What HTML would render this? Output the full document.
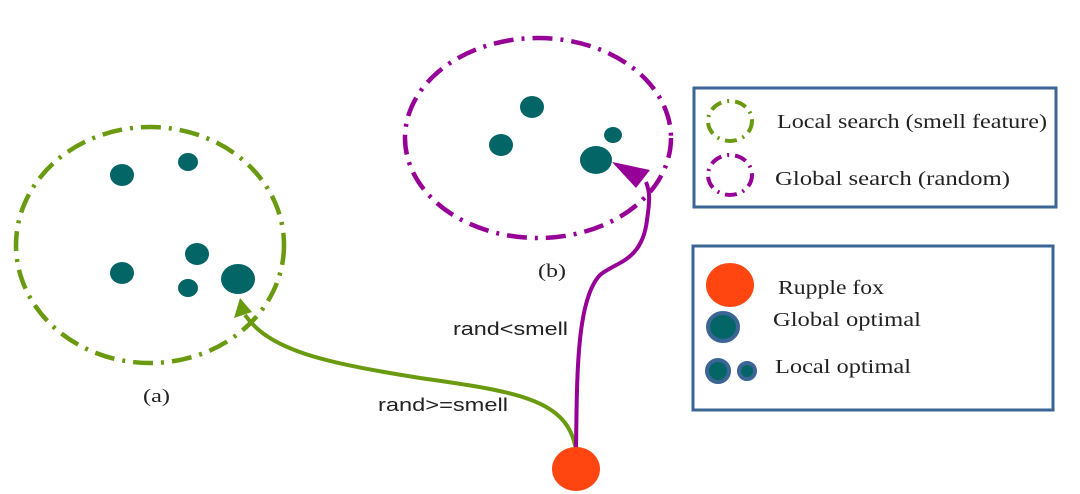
<!DOCTYPE html>
<html><head><meta charset="utf-8"><style>
html,body{margin:0;padding:0;background:#fff;}
svg{display:block;}
text{font-family:"Liberation Serif",serif;fill:#222;}
</style></head><body>
<svg width="1080" height="494" viewBox="0 0 1080 494" xmlns="http://www.w3.org/2000/svg">
<ellipse cx="150" cy="245" rx="134" ry="118" fill="none" stroke="#6a9a10" stroke-width="4.5" stroke-dasharray="20,8,3,8"/>
<g fill="#036565">
<ellipse cx="122" cy="175" rx="12" ry="11"/>
<ellipse cx="188" cy="162" rx="10" ry="9"/>
<ellipse cx="122" cy="273" rx="12" ry="11"/>
<ellipse cx="197" cy="254" rx="12" ry="11"/>
<ellipse cx="188" cy="288" rx="10" ry="9"/>
<ellipse cx="238" cy="279" rx="17" ry="15"/>
</g>
<ellipse cx="538" cy="138" rx="133" ry="100" fill="none" stroke="#960096" stroke-width="4.5" stroke-dasharray="20,8,3,8"/>
<g fill="#036565">
<ellipse cx="532" cy="107" rx="12" ry="11"/>
<ellipse cx="501" cy="145" rx="12" ry="11"/>
<ellipse cx="613" cy="135" rx="9" ry="8"/>
<ellipse cx="596" cy="160" rx="16" ry="14"/>
</g>
<path d="M576,450 C568,400 520,392 420,378 C320,362 270,350 245,315" fill="none" stroke="#6a9a10" stroke-width="4"/>
<polygon points="240,298 234,318 252,312" fill="#6a9a10"/>
<path d="M576,452 C577,380 576,300 600,275 C615,262 642,262 647,220 C650,200 650,192 646,182" fill="none" stroke="#960096" stroke-width="4"/>
<polygon points="612,162 650,170 636,188" fill="#960096"/>
<ellipse cx="576" cy="469" rx="24" ry="22" fill="#ff4510"/>
<text x="143" y="402" font-size="19" textLength="27" lengthAdjust="spacingAndGlyphs">(a)</text>
<text x="538" y="277" font-size="19" textLength="28" lengthAdjust="spacingAndGlyphs">(b)</text>
<text x="453" y="335" font-size="18" textLength="115" lengthAdjust="spacingAndGlyphs" style="font-family:'Liberation Sans',sans-serif">rand&lt;smell</text>
<text x="378" y="411" font-size="18" textLength="130" lengthAdjust="spacingAndGlyphs" style="font-family:'Liberation Sans',sans-serif">rand&gt;=smell</text>
<rect x="694" y="88" width="362" height="119" fill="none" stroke="#3a6595" stroke-width="3"/>
<ellipse cx="730" cy="121" rx="22" ry="20" fill="none" stroke="#6a9a10" stroke-width="4" stroke-dasharray="12,6,2,6"/>
<ellipse cx="730" cy="175" rx="22" ry="20" fill="none" stroke="#960096" stroke-width="4" stroke-dasharray="12,6,2,6"/>
<text x="777" y="128" font-size="20" textLength="270" lengthAdjust="spacingAndGlyphs">Local search (smell feature)</text>
<text x="775" y="185" font-size="20" textLength="235" lengthAdjust="spacingAndGlyphs">Global search (random)</text>
<rect x="693" y="246" width="360" height="164" fill="none" stroke="#3a6595" stroke-width="3"/>
<ellipse cx="730" cy="285" rx="24" ry="22" fill="#ff4510"/>
<ellipse cx="723" cy="327" rx="15" ry="14" fill="#036565" stroke="#3a6595" stroke-width="4"/>
<ellipse cx="718" cy="371" rx="11" ry="11" fill="#036565" stroke="#3a6595" stroke-width="4"/>
<ellipse cx="747" cy="371" rx="8" ry="8" fill="#036565" stroke="#3a6595" stroke-width="4"/>
<text x="778" y="294" font-size="20" textLength="106" lengthAdjust="spacingAndGlyphs">Rupple fox</text>
<text x="773" y="326" font-size="20" textLength="148" lengthAdjust="spacingAndGlyphs">Global optimal</text>
<text x="775" y="373" font-size="20" textLength="136" lengthAdjust="spacingAndGlyphs">Local optimal</text>
</svg>
</body></html>
